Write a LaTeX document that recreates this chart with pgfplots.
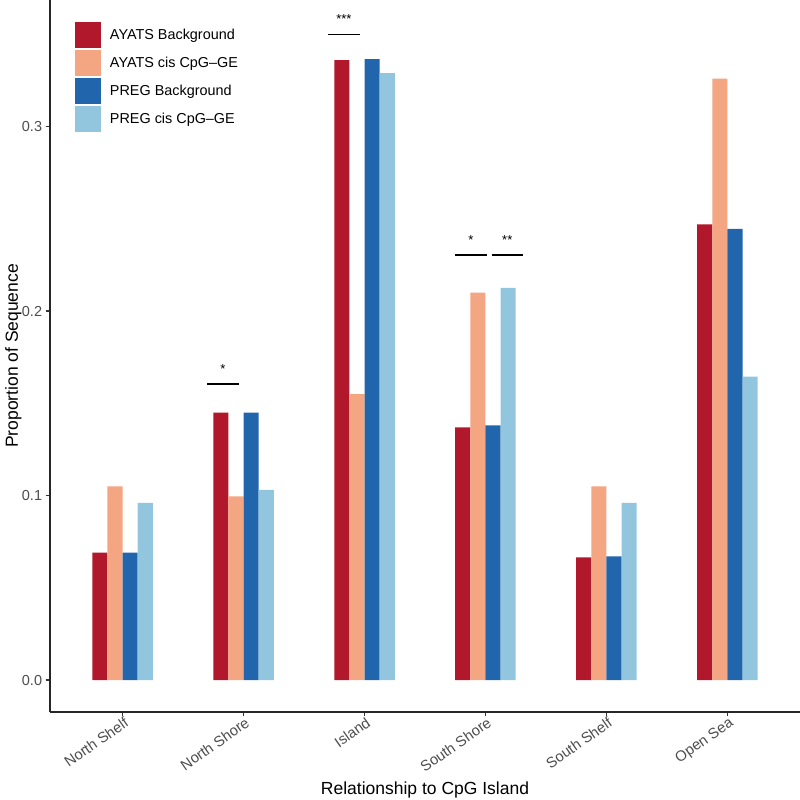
\documentclass[border=0pt]{standalone}
\usepackage{fontspec}
\setmainfont{Liberation Sans}
\usepackage{pgfplots}
\pgfplotsset{compat=1.18}

\definecolor{ayatsbg}{HTML}{B2182B}
\definecolor{ayatscis}{HTML}{F4A582}
\definecolor{pregbg}{HTML}{2166AC}
\definecolor{pregcis}{HTML}{92C5DE}
\definecolor{tickgray}{HTML}{4D4D4D}

\begin{document}
\begin{tikzpicture}[x=1pt,y=1pt]
\begin{axis}[
    name=ax,
    scale only axis, width=750pt, height=712pt,
    xmin=-0.6, xmax=5.6,
    ymin=-0.01734, ymax=0.3686,
    enlargelimits=false, clip=false,
    ybar, bar width=0.125,
    axis lines=left,
    axis line style={-, line width=1.1pt, black!85},
    tick align=outside, major tick length=4.4pt,
    every tick/.style={line width=1.1pt, black!80},
    xtick={0,1,2,3,4,5},
    xticklabels={North Shelf, North Shore, Island, South Shore, South Shelf, Open Sea},
    ytick={0,0.1,0.2,0.3},
    /pgf/number format/assume math mode=true,
    yticklabel style={/pgf/number format/.cd, fixed, fixed zerofill, precision=1, /tikz/.cd,
        font=\fontsize{14.5}{14.5}\selectfont, text=tickgray},
    xticklabel style={rotate=35, anchor=north east, xshift=4pt, yshift=3pt,
        font=\fontsize{14.8}{14.8}\selectfont, text=tickgray},
    xlabel={Relationship to CpG Island},
    ylabel={Proportion of Sequence},
    label style={font=\fontsize{17.5}{17.5}\selectfont},
    xlabel style={at={(axis description cs:0.5,-0.110)}, anchor=center},
    ylabel style={at={(axis description cs:-0.0487,0.5)}, anchor=center},
    legend style={at={(axis description cs:0.0333,0.9691)}, anchor=north west,
        draw=none, fill=none, inner sep=0pt, outer sep=0pt, row sep=2pt,
        font=\fontsize{14.4}{14.4}\selectfont, cells={anchor=west},
        /tikz/every odd column/.append style={column sep=7pt}},
    legend cell align=left,
]
\pgfplotsset{every axis plot/.append style={draw=none,
    legend image code/.code={\fill[##1] (0pt,-13pt) rectangle (26pt,13pt);}}}

\addplot[fill=ayatsbg, bar shift=-0.1875] coordinates {
    (0,0.069) (1,0.145) (2,0.336) (3,0.137) (4,0.0665) (5,0.247)};
\addplot[fill=ayatscis, bar shift=-0.0625] coordinates {
    (0,0.105) (1,0.0996) (2,0.155) (3,0.210) (4,0.105) (5,0.326)};
\addplot[fill=pregbg, bar shift=0.0625] coordinates {
    (0,0.069) (1,0.145) (2,0.3366) (3,0.138) (4,0.067) (5,0.2446)};
\addplot[fill=pregcis, bar shift=0.1875] coordinates {
    (0,0.096) (1,0.103) (2,0.329) (3,0.2125) (4,0.096) (5,0.1644)};
\legend{AYATS Background, AYATS cis CpG\textendash GE, PREG Background, PREG cis CpG\textendash GE}

% significance brackets
\addplot[sharp plot, draw=black, line width=1.5pt, forget plot] coordinates {(0.70,0.1604) (0.96,0.1604)};
\addplot[sharp plot, draw=black, line width=1.5pt, forget plot] coordinates {(1.70,0.3500) (1.96,0.3500)};
\addplot[sharp plot, draw=black, line width=1.5pt, forget plot] coordinates {(2.75,0.2304) (3.01,0.2304)};
\addplot[sharp plot, draw=black, line width=1.5pt, forget plot] coordinates {(3.05,0.2304) (3.31,0.2304)};
\node[anchor=base, font=\fontsize{13}{13}\selectfont, inner sep=0pt] at (axis cs:0.83,0.1662) {*};
\node[anchor=base, font=\fontsize{13}{13}\selectfont, inner sep=0pt] at (axis cs:1.83,0.3558) {***};
\node[anchor=base, font=\fontsize{13}{13}\selectfont, inner sep=0pt] at (axis cs:2.88,0.2362) {*};
\node[anchor=base, font=\fontsize{13}{13}\selectfont, inner sep=0pt] at (axis cs:3.18,0.2362) {**};
\end{axis}
\pgfresetboundingbox
\path (ax.south west) ++(-50,-88) coordinate (bl);
\useasboundingbox (bl) rectangle ++(800,800);
\end{tikzpicture}
\end{document}
